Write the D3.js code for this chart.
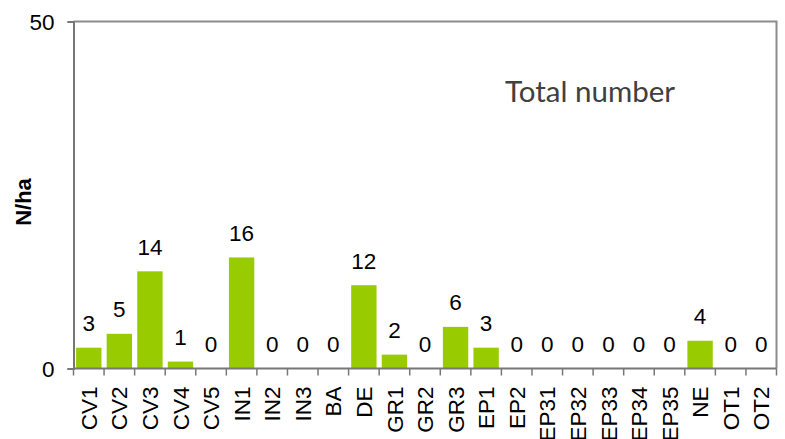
<!DOCTYPE html>
<html><head><meta charset="utf-8">
<script src="https://cdn.jsdelivr.net/npm/d3@7"></script>
<style>body{margin:0;background:#fff}svg{display:block}</style>
</head><body>
<svg id="c" width="785" height="439"></svg>
<script>
const categories = ["CV1","CV2","CV3","CV4","CV5","IN1","IN2","IN3","BA","DE","GR1","GR2","GR3","EP1","EP2","EP31","EP32","EP33","EP34","EP35","NE","OT1","OT2"];
const values = [3,5,14,1,0,16,0,0,0,12,2,0,6,3,0,0,0,0,0,0,4,0,0];
const yTicks = [0,50];
const yLabel = "N/ha";
const title = "Total number";

const svg = d3.select("#c");
const L = 73.5, R = 776.5, T = 21.5, B = 368.5;
const x = d3.scaleBand().domain(categories).range([L, R]).paddingInner(0.17).paddingOuter(0.085);
const y = d3.scaleLinear().domain([0, 50]).range([B, T]);
const font = "'Liberation Sans', Arial, sans-serif";
const fs = 22.5;

// frame (top & right)
svg.append("path").attr("d", `M${L},${T}H${R}V${B}`).attr("fill","none").attr("stroke","#8c8c8c").attr("stroke-width",2);

// bars
svg.selectAll("rect.bar").data(values).join("rect")
  .attr("x", (d,i) => x(categories[i]))
  .attr("y", d => y(d))
  .attr("width", x.bandwidth())
  .attr("height", d => B - y(d))
  .attr("fill", "#99cc00");

// value labels
svg.selectAll("text.val").data(values).join("text")
  .attr("x", (d,i) => x(categories[i]) + x.bandwidth()/2)
  .attr("y", d => y(d) - 16.5)
  .attr("text-anchor","middle")
  .attr("font-family", font).attr("font-size", fs).attr("fill","#000")
  .text(d => d);

// y axis
const yAxis = d3.axisLeft(y).tickValues(yTicks).tickSize(6).tickPadding(13).tickFormat(d3.format("d"));
const gy = svg.append("g").attr("transform", `translate(${L},0)`).call(yAxis);
gy.select(".domain").attr("stroke","#777").attr("stroke-width",2);
gy.selectAll(".tick line").attr("stroke","#777").attr("stroke-width",1.5);
gy.selectAll(".tick text").attr("font-family", font).attr("font-size", fs).attr("fill","#000").attr("dy","0.36em");

// x axis baseline and ticks at category boundaries
const gx = svg.append("g");
gx.append("line").attr("x1", L).attr("x2", R).attr("y1", B).attr("y2", B).attr("stroke","#777").attr("stroke-width",2);
const step = x.step();
const bounds = d3.range(categories.length + 1).map(i => (i < categories.length ? x(categories[i]) - (step - x.bandwidth())/2 : R));
gx.selectAll("line.tk").data(bounds).join("line")
  .attr("x1", d => d).attr("x2", d => d).attr("y1", B).attr("y2", B + 7)
  .attr("stroke","#777").attr("stroke-width",1.5);
gx.selectAll("text.xl").data(categories).join("text")
  .attr("transform", d => `translate(${x(d) + x.bandwidth()/2},${B + 18}) rotate(-90)`)
  .attr("text-anchor","end").attr("dy","0.36em")
  .attr("font-family", font).attr("font-size", fs).attr("fill","#000")
  .text(d => d);

// y label
svg.append("text").attr("transform","translate(23,202) rotate(-90)")
  .attr("text-anchor","middle").attr("dy","0.36em")
  .attr("font-family", font).attr("font-size", 22).attr("font-weight","bold").text(yLabel);

// title
svg.append("text").attr("x", 505).attr("y", 102)
  .attr("font-family", "Lato, 'Open Sans', sans-serif").attr("font-size", 29.5).attr("fill","#404040")
  .text(title);
</script>
</body></html>
